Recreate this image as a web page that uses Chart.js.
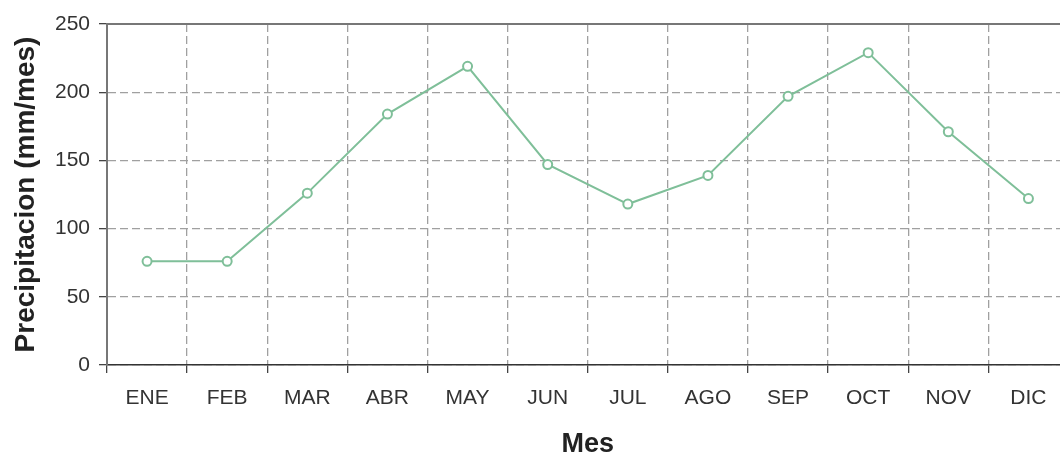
<!DOCTYPE html>
<html>
<head>
<meta charset="utf-8">
<script src="https://cdn.jsdelivr.net/npm/chart.js@4/dist/chart.umd.min.js"></script>
<style>
    body { margin: 0; overflow: hidden; background: #fff; }
    canvas { display: block; }
</style>
</head>
<body>
<canvas id="lluviaChart" width="1075" height="455"></canvas>
<script>
// Datos
const meses = ['ENE', 'FEB', 'MAR', 'ABR', 'MAY', 'JUN', 'JUL', 'AGO', 'SEP', 'OCT', 'NOV', 'DIC'];
const precipitacion = [76, 76, 126, 184, 219, 147, 118, 139, 197, 229, 171, 122];
const yTicks = [0, 50, 100, 150, 200, 250];

// Top border of the plot area
const topBorder = {
    id: 'topBorder',
    afterDraw(chart) {
        const { ctx, chartArea } = chart;
        ctx.save();
        ctx.strokeStyle = '#777';
        ctx.lineWidth = 2;
        ctx.beginPath();
        ctx.moveTo(chartArea.left, chartArea.top);
        ctx.lineTo(chartArea.right + 5, chartArea.top);
        ctx.stroke();
        ctx.restore();
    }
};

const ctx = document.getElementById('lluviaChart').getContext('2d');
const lluviaChart = new Chart(ctx, {
    type: 'line',
    data: {
        labels: meses,
        datasets: [{
            label: 'Precipitacion',
            data: precipitacion,
            borderColor: '#7fbf99',
            borderWidth: 2,
            pointRadius: 4.5,
            pointBorderWidth: 2,
            pointBackgroundColor: '#fff',
            pointBorderColor: '#7fbf99',
            tension: 0,
            fill: false
        }]
    },
    plugins: [topBorder],
    options: {
        responsive: false,
        animation: false,
        layout: {
            padding: { top: 24, right: 0, bottom: 0, left: 0 }
        },
        plugins: {
            legend: { display: false },
            tooltip: { enabled: false }
        },
        scales: {
            x: {
                offset: true,
                grid: {
                    offset: true,
                    color: '#a0a0a0',
                    lineWidth: 1.3,
                    tickLength: 8,
                    tickColor: '#444',
                    tickBorderDash: [0, 0]
                },
                border: { color: '#333', width: 1.5, dash: [8, 4] },
                ticks: {
                    color: '#333',
                    padding: 13,
                    font: { family: 'Liberation Sans', size: 21 }
                },
                title: {
                    display: true,
                    text: 'Mes',
                    color: '#222',
                    padding: 0,
                    font: { family: 'Liberation Sans', size: 27, weight: 'bold', lineHeight: 0.8 }
                },
                afterFit(scale) { scale.height = 90; }
            },
            y: {
                min: 0,
                max: 250,
                afterBuildTicks(scale) {
                    scale.ticks = yTicks.map(v => ({ value: v }));
                },
                grid: {
                    color: '#a0a0a0',
                    lineWidth: 1.3,
                    tickLength: 8,
                    tickColor: '#444',
                    tickBorderDash: [0, 0]
                },
                border: { color: '#777', width: 2, dash: [8, 4] },
                ticks: {
                    color: '#333',
                    padding: 9,
                    font: { family: 'Liberation Sans', size: 21 }
                },
                title: {
                    display: true,
                    text: 'Precipitacion (mm/mes)',
                    color: '#222',
                    padding: { top: 9, bottom: 0 },
                    font: { family: 'Liberation Sans', size: 28, weight: 'bold', lineHeight: 1.2 }
                },
                afterFit(scale) { scale.width = 107; }
            }
        }
    }
});
</script>
</body>
</html>
